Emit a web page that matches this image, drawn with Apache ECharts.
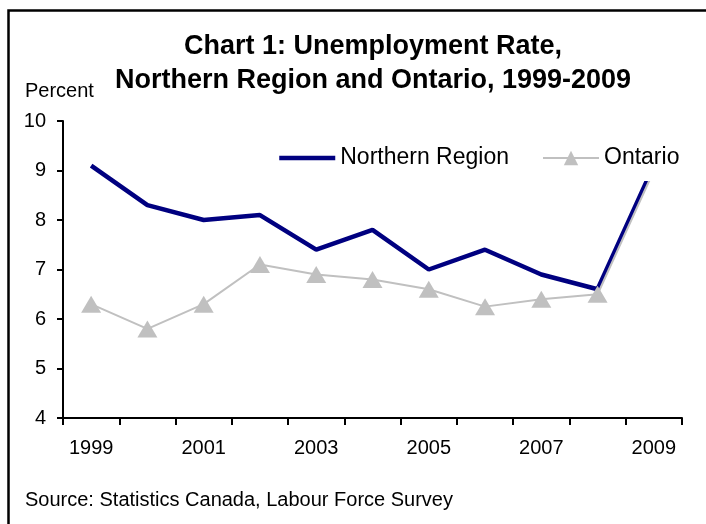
<!DOCTYPE html>
<html>
<head>
<meta charset="utf-8">
<script src="https://cdn.jsdelivr.net/npm/echarts@6/dist/echarts.min.js"></script>
<style>
html,body{margin:0;padding:0;background:#fff;}
#chart{width:706px;height:524px;}
</style>
</head>
<body>
<div id="chart"></div>
<script>
const years = ['1999','2000','2001','2002','2003','2004','2005','2006','2007','2008','2009'];
const northernRegion = [9.1, 8.3, 8.0, 8.1, 7.4, 7.8, 7.0, 7.4, 6.9, 6.6, 9.1];
const ontario = [6.3, 5.8, 6.3, 7.1, 6.9, 6.8, 6.6, 6.25, 6.4, 6.5, 9.0];
const yTicks = {min: 4, max: 10, interval: 1};
const titleText = 'Chart 1: Unemployment Rate,\nNorthern Region and Ontario, 1999-2009';
const yAxisName = 'Percent';
const sourceText = 'Source: Statistics Canada, Labour Force Survey';

const FONT = '"Liberation Sans", Arial, sans-serif';
const chart = echarts.init(document.getElementById('chart'));
chart.setOption({
  animation: false,
  backgroundColor: '#fff',
  title: {
    text: titleText,
    left: 368,
    top: 25,
    textAlign: 'center',
    textStyle: {fontFamily: FONT, fontSize: 27, fontWeight: 'bold', color: '#000', lineHeight: 34}
  },
  legend: {
    left: 271,
    top: 142,
    padding: [4, 6, 11, 6],
    backgroundColor: '#fff',
    itemWidth: 56,
    itemHeight: 18,
    itemGap: 33,
    textStyle: {fontFamily: FONT, fontSize: 23, color: '#000', lineHeight: 24},
    data: [
      {name: 'Northern Region', itemStyle: {opacity: 0}, lineStyle: {width: 4.5, color: '#000080'}},
      {name: 'Ontario'}
    ]
  },
  grid: {left: 63, right: 24, top: 121, bottom: 106, containLabel: false},
  xAxis: {
    type: 'category',
    data: years,
    boundaryGap: true,
    axisLine: {lineStyle: {color: '#000', width: 2}},
    axisTick: {show: true, length: 7, interval: 0, lineStyle: {color: '#000', width: 2}},
    axisLabel: {interval: 1, margin: 20, fontFamily: FONT, fontSize: 20, color: '#000'},
    splitLine: {show: false}
  },
  yAxis: {
    type: 'value',
    min: yTicks.min,
    max: yTicks.max,
    interval: yTicks.interval,
    axisLine: {show: true, lineStyle: {color: '#000', width: 2}},
    axisTick: {show: true, length: 6, lineStyle: {color: '#000', width: 2}},
    axisLabel: {margin: 17, fontFamily: FONT, fontSize: 20, color: '#000'},
    splitLine: {show: false}
  },
  graphic: [
    {type: 'rect', silent: true, z: 100, shape: {x: 8.5, y: 10.5, width: 760, height: 600},
     style: {fill: 'none', stroke: '#000', lineWidth: 2.5}},
    {type: 'text', left: 25, top: 81, silent: true,
     style: {text: yAxisName, font: '20px ' + FONT, fill: '#000'}},
    {type: 'text', left: 25, top: 490, silent: true,
     style: {text: sourceText, font: '20px ' + FONT, fill: '#000'}}
  ],
  series: [
    {
      name: 'Northern Region',
      type: 'line',
      data: northernRegion,
      symbol: 'none',
      lineStyle: {color: '#000080', width: 4.5},
      itemStyle: {color: '#000080'},
      z: 2
    },
    {
      name: 'Ontario',
      type: 'line',
      data: ontario,
      symbol: 'triangle',
      symbolSize: [20, 17],
      lineStyle: {color: '#C0C0C0', width: 2},
      itemStyle: {color: '#C0C0C0'},
      z: 3
    }
  ]
});
</script>
</body>
</html>
